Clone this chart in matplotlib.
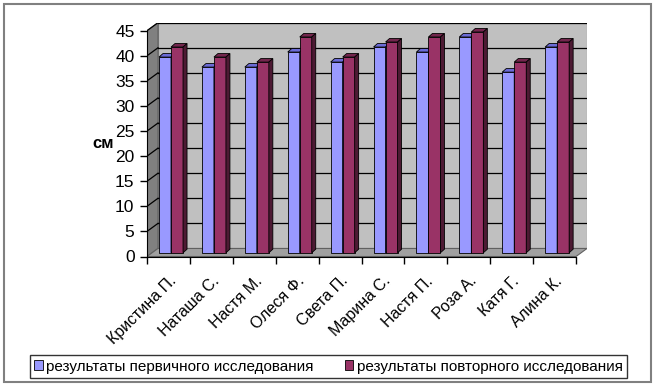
import matplotlib
matplotlib.use('Agg')
import matplotlib.pyplot as plt
from matplotlib.patches import Polygon, Rectangle, Patch

plt.rcParams['font.family'] = ['Liberation Sans', 'DejaVu Sans']

names = ['Кристина П.', 'Наташа С.', 'Настя М.', 'Олеся Ф.', 'Света П.',
         'Марина С.', 'Настя П.', 'Роза А.', 'Катя Г.', 'Алина К.']
first = [39, 37, 37, 40, 38, 41, 40, 43, 36, 41]
second = [41, 39, 38, 43, 39, 42, 43, 44, 38, 42]
series_labels = ['результаты первичного исследования', 'результаты повторного исследования']

W, H = 657, 389
fig = plt.figure(figsize=(W / 100, H / 100), dpi=100)

# 3d look: shift of back wall and bar depth (data units)
dx, dy = 0.256, 1.6
bdx, bdy = 0.093, 0.7
base = 0.75
ymax = 45

ax = fig.add_axes([147 / W, 1 - 256.5 / H, (587 - 147) / W, (256.5 - 22.7) / H])
ax.set_xlim(0, len(names) + dx)
ax.set_ylim(0, ymax + dy)
ax.set_facecolor('none')

n = len(names)
# walls
ax.add_patch(Rectangle((dx, dy), n, ymax, facecolor='#c0c0c0', edgecolor='#808080', lw=0.8, zorder=0))
ax.add_patch(Polygon([(0, 0), (dx, dy), (dx, ymax + dy), (0, ymax)], closed=True,
                     facecolor='#808080', edgecolor='#606060', lw=0.8, zorder=0))
ax.add_patch(Polygon([(0, 0), (n, 0), (n + dx, dy), (dx, dy)], closed=True,
                     facecolor='#a0a0a0', edgecolor='#606060', lw=0.8, zorder=0.5))
for v in range(5, ymax + 1, 5):
    ax.plot([dx, n + dx], [v + dy, v + dy], color='black', lw=0.9, zorder=0.3)
    ax.plot([0, dx], [v, v + dy], color='black', lw=0.9, zorder=0.3)

colors = {'front': ['#9999ff', '#993366'], 'top': ['#6b6bd6', '#73264d'], 'side': ['#5c5cb8', '#4d1a33']}
w = 0.28
z = 2
for i in range(n):
    for k, vals in enumerate([first, second]):
        x0 = i + 0.28 + k * w
        h = vals[i]
        ax.bar(x0, h, width=w, bottom=base, align='edge', color=colors['front'][k],
               edgecolor='black', lw=0.6, zorder=z)
        top = base + h
        ax.add_patch(Polygon([(x0, top), (x0 + w, top), (x0 + w + bdx, top + bdy), (x0 + bdx, top + bdy)],
                             closed=True, facecolor=colors['top'][k], edgecolor='black', lw=0.6, zorder=z))
        ax.add_patch(Polygon([(x0 + w, base), (x0 + w + bdx, base + bdy), (x0 + w + bdx, top + bdy), (x0 + w, top)],
                             closed=True, facecolor=colors['side'][k], edgecolor='black', lw=0.6, zorder=z))
        z += 1

for s in ['top', 'right']:
    ax.spines[s].set_visible(False)
ax.spines['left'].set_bounds(0, ymax)
ax.spines['bottom'].set_bounds(0, n)
ax.spines['left'].set_zorder(1)
ax.spines['bottom'].set_zorder(1)

ax.set_yticks(range(0, ymax + 1, 5))
ax.tick_params(axis='y', length=5, width=1, labelsize=12.5, pad=4)
ax.set_xticks(range(n + 1))
ax.set_xticklabels([])
ax.tick_params(axis='x', which='major', length=5, width=1)
ax.set_xticks([i + 0.5 for i in range(n)], minor=True)
ax.set_xticklabels(names, minor=True, rotation=45, ha='right', va='top', rotation_mode='anchor', fontsize=11.5)
ax.tick_params(axis='x', which='minor', length=0, pad=12)

fig.text(103 / W, 1 - 143 / H, 'см', fontsize=12, fontweight='bold', ha='center', va='center')

handles = [Patch(facecolor=colors['front'][k], edgecolor='black', lw=0.6) for k in range(2)]
fig.legend(handles, series_labels, loc='center', bbox_to_anchor=(328.5 / W, 1 - 366.5 / H), ncol=2,
           fontsize=11, frameon=True, fancybox=False, edgecolor='black', handlelength=0.55, handleheight=0.55,
           handletextpad=0.25, columnspacing=2.0, borderpad=0.3).get_frame().set_linewidth(1)

fig.patches.append(Rectangle((4 / W, 1 - 382 / H), 647 / W, 378 / H, transform=fig.transFigure,
                             fill=False, edgecolor='#808080', lw=1.5))

fig.savefig('out.png', dpi=100)
